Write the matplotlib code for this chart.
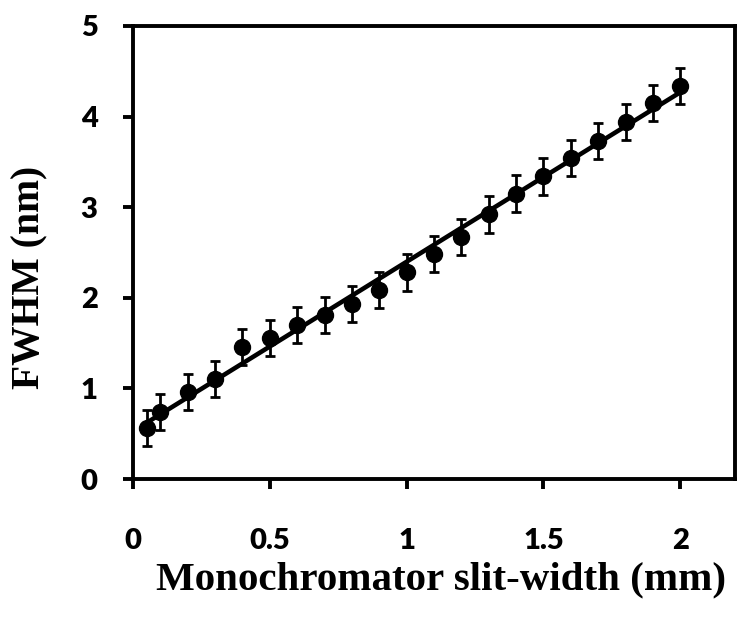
import numpy as np
import matplotlib
matplotlib.use("Agg")
import matplotlib.pyplot as plt

slit_width = [0.05, 0.1, 0.2, 0.3, 0.4, 0.5, 0.6, 0.7, 0.8, 0.9, 1.0,
              1.1, 1.2, 1.3, 1.4, 1.5, 1.6, 1.7, 1.8, 1.9, 2.0]
fwhm = [0.56, 0.74, 0.96, 1.10, 1.46, 1.56, 1.70, 1.81, 1.93, 2.09, 2.28,
        2.48, 2.67, 2.92, 3.15, 3.34, 3.54, 3.73, 3.94, 4.15, 4.34]
fwhm_err = [0.2] * len(fwhm)
x_ticks = [0, 0.5, 1, 1.5, 2]
x_ticklabels = ["0", "0.5", "1", "1.5", "2"]
y_ticks = [0, 1, 2, 3, 4, 5]

fig = plt.figure(figsize=(7.38, 6.22), dpi=100)
ax = fig.add_axes([133/738, (622-479)/622, 602/738, 453/622])

coef = np.polyfit(slit_width, fwhm, 1)
xf = np.array([slit_width[0], slit_width[-1]])
ax.plot(xf, np.polyval(coef, xf), color="black", lw=3.3, zorder=2)
ax.errorbar(slit_width, fwhm, yerr=fwhm_err, fmt="o", color="black",
            ms=11.5, elinewidth=2, capsize=3.5, capthick=2, zorder=3)

ax.set_xlim(0, 2.2)
ax.set_ylim(0, 5)
ax.set_xticks(x_ticks)
ax.set_xticklabels(x_ticklabels)
ax.set_yticks(y_ticks)
for s in ax.spines.values():
    s.set_linewidth(2.8)
ax.tick_params(axis="both", direction="out", length=7.5, width=2.8,
               top=False, right=False)
ax.tick_params(axis="x", pad=28)
ax.tick_params(axis="y", pad=18)
for lab in ax.get_xticklabels() + ax.get_yticklabels():
    lab.set_fontfamily("Lato")
    lab.set_fontweight("heavy")
    lab.set_fontsize(21)

ax.set_xlabel("Monochromator slit-width (mm)", fontfamily="Liberation Serif",
              fontweight="bold", fontsize=29.5)
ax.xaxis.set_label_coords(0.512, -0.183)
ax.set_ylabel("FWHM (nm)", fontfamily="Liberation Serif",
              fontweight="bold", fontsize=28.5)
ax.yaxis.set_label_coords(-0.141, 0.446)

fig.savefig("out.png", dpi=100)
